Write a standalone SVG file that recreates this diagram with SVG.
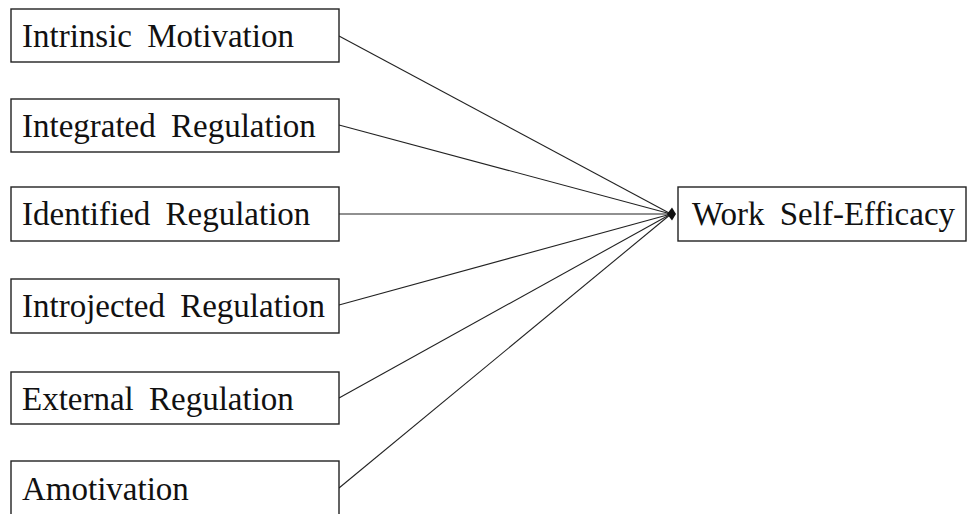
<svg xmlns="http://www.w3.org/2000/svg" width="968" height="514" viewBox="0 0 968 514">
<style>
.box{fill:#fff;stroke:#222;stroke-width:1.4}
.lbl{font-family:"Liberation Serif","Times New Roman",serif;font-size:33px;fill:#111;word-spacing:7px}
.con{stroke:#222;stroke-width:1.1;fill:none}
</style>
<rect width="968" height="514" fill="#fff"/>
<g id="connectors">
<line class="con" x1="339" y1="36" x2="671" y2="214"/>
<line class="con" x1="339" y1="125" x2="671" y2="214"/>
<line class="con" x1="339" y1="214" x2="671" y2="214"/>
<line class="con" x1="339" y1="305" x2="671" y2="214"/>
<line class="con" x1="339" y1="398" x2="671" y2="214"/>
<line class="con" x1="339" y1="488" x2="671" y2="214"/>
<path d="M667,214 L672,207.5 L676,214 L672,220.5 Z" fill="#111"/>
</g>
<g id="intrinsic">
<rect class="box" x="11" y="9" width="328" height="53"/>
<text class="lbl" x="22" y="47">Intrinsic Motivation</text>
</g>
<g id="integrated">
<rect class="box" x="11" y="99" width="328" height="53"/>
<text class="lbl" x="22" y="137">Integrated Regulation</text>
</g>
<g id="identified">
<rect class="box" x="11" y="187" width="328" height="54"/>
<text class="lbl" x="22" y="225">Identified Regulation</text>
</g>
<g id="introjected">
<rect class="box" x="11" y="279" width="328" height="54"/>
<text class="lbl" x="22" y="317">Introjected Regulation</text>
</g>
<g id="external">
<rect class="box" x="11" y="372" width="328" height="52"/>
<text class="lbl" x="22" y="410">External Regulation</text>
</g>
<g id="amotivation">
<rect class="box" x="11" y="461" width="328" height="60"/>
<text class="lbl" x="22" y="500">Amotivation</text>
</g>
<g id="wse">
<rect class="box" x="678" y="187" width="288" height="54"/>
<text class="lbl" x="692" y="225">Work Self-Efficacy</text>
</g>
</svg>
